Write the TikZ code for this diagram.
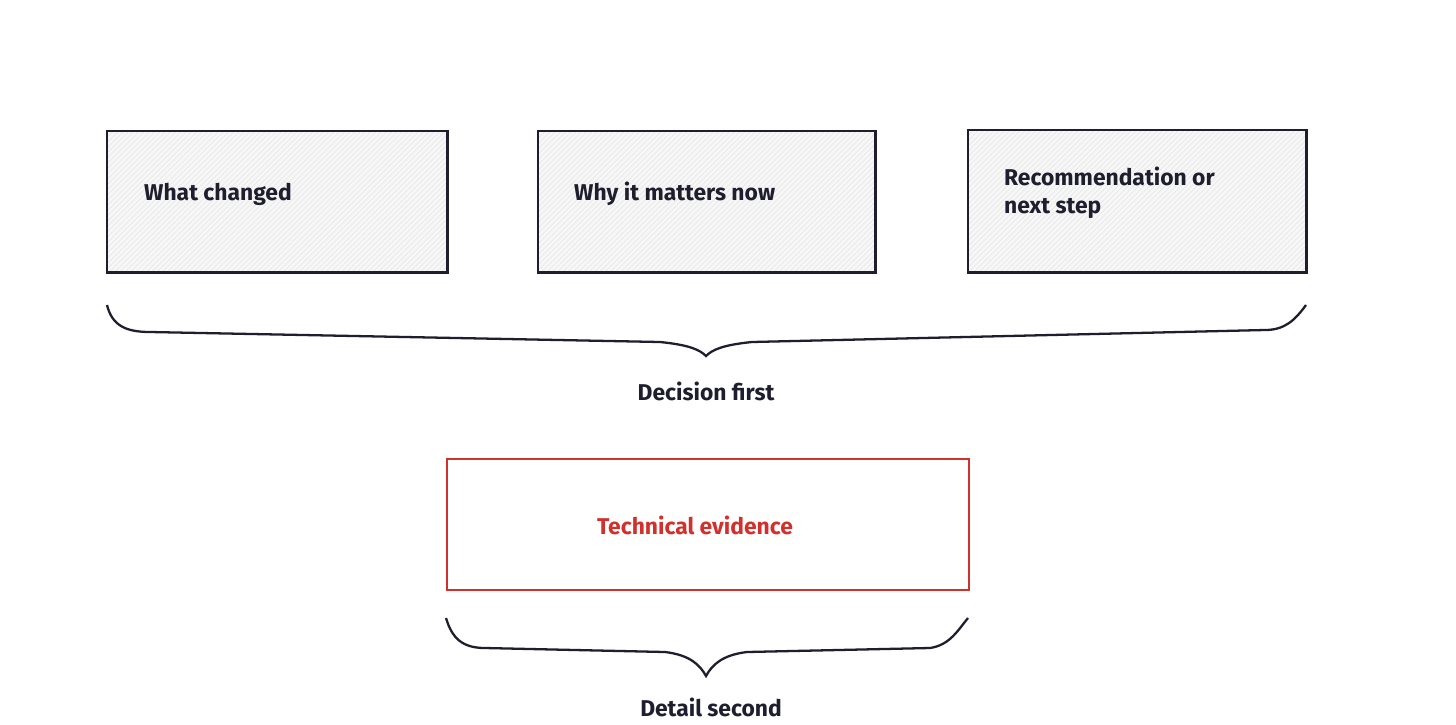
\documentclass[tikz,border=0pt]{standalone}
\usepackage{fontspec}
\setmainfont{Fira Sans}
\usetikzlibrary{patterns}
\definecolor{ink}{HTML}{1E1E2E}
\definecolor{redink}{HTML}{D0312D}
\begin{document}
\begin{tikzpicture}[x=0.02cm,y=-0.02cm,
  box/.style={fill=gray!6},
  lbl/.style={text=ink,font=\fontsize{13}{16}\selectfont\bfseries,align=left,anchor=west},
  brace/.style={draw=ink,line width=1.3pt},
  captxt/.style={text=ink,font=\fontsize{13}{16}\selectfont\bfseries}]
\useasboundingbox (0,0) rectangle (1456,724);
\fill[white] (0,0) rectangle (1456,724);
\node[box,minimum width=340*0.02cm,minimum height=141*0.02cm,anchor=north west] (b1) at (107,131) {};
\node[box,minimum width=337*0.02cm,minimum height=141*0.02cm,anchor=north west] (b2) at (538,131) {};
\node[box,minimum width=338*0.02cm,minimum height=142*0.02cm,anchor=north west] (b3) at (968,130) {};
\foreach \b in {b1,b2,b3}{
  \path[pattern=north east lines,pattern color=gray!18] (\b.south west) rectangle (\b.north east);
  \draw[ink,line width=1.4pt] (\b.south west) rectangle (\b.north east);}
\node[lbl] (t1) at (138,194) {What changed};
\node[lbl] (t2) at (568,194) {Why it matters now};
\node[lbl] (t3) at (998,193) {Recommendation or\\next step};
\draw[brace] (107,305) .. controls (112,325) and (125,332) .. (150,332) -- (660,342) .. controls (690,345) and (700,350) .. (706,356)
  .. controls (712,350) and (722,345) .. (752,342) -- (1265,330) .. controls (1285,330) and (1295,320) .. (1306,305);
\node[captxt] (c1) at (706,391) {Decision first};
\node[draw=redink,line width=1.3pt,minimum width=522*0.02cm,minimum height=131*0.02cm,anchor=north west] (r) at (446,458) {};
\node[text=redink,font=\fontsize{13}{16}\selectfont\bfseries] (rt) at (695,525) {Technical evidence};
\draw[brace] (446,618) .. controls (452,638) and (462,648) .. (485,648) -- (665,652) .. controls (690,655) and (700,665) .. (706,676)
  .. controls (712,665) and (722,655) .. (747,652) -- (930,648) .. controls (950,645) and (958,630) .. (968,618);
\node[captxt] (c2) at (711,707) {Detail second};
\end{tikzpicture}
\end{document}
